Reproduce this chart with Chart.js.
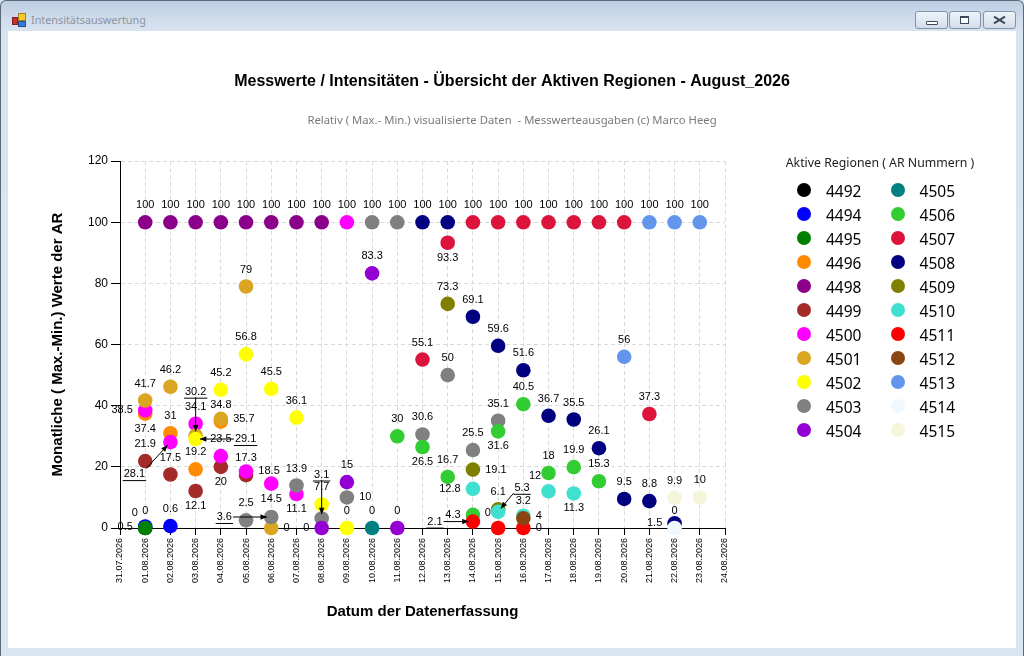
<!DOCTYPE html>
<html>
<head>
<meta charset="utf-8">
<title>Intensitätsauswertung</title>
<script src="https://cdn.jsdelivr.net/npm/chart.js@4.4.1/dist/chart.umd.min.js"></script>
<style>
html,body{margin:0;padding:0;width:1024px;height:656px;overflow:hidden;background:#dae5f2;}
#win{position:absolute;left:0;top:0;width:1022px;height:655px;border:1px solid #5f6a78;border-bottom:none;border-radius:6px 6px 0 0;
  background:linear-gradient(to bottom,#bccde2 0px,#cfdcec 18px,#d9e4f1 31px,#dae5f2 100%);}
#icon{position:absolute;left:11px;top:12px;width:14px;height:14px;}
#icon i{position:absolute;display:block;border:1px solid rgba(0,0,0,0.35);}
#icon .q1{left:6px;top:0;width:6px;height:6px;background:#f6c92b;}
#icon .q2{left:0;top:4px;width:4px;height:6px;background:#c8312b;}
#icon .q3{left:6px;top:8px;width:6px;height:4px;background:#3b78d8;}
#wtitle{position:absolute;left:30px;top:11px;font:10.8px "Noto Sans",sans-serif;color:#8f949b;}
.btn{position:absolute;top:10px;height:16px;border:1px solid #8193ab;border-radius:3px;background:linear-gradient(#eef3f9,#d3ddea);}
#bmin{left:914px;width:31px;}
#bmax{left:948px;width:30px;}
#bclose{left:982px;width:31px;}
#bmin i{position:absolute;left:10px;top:9px;width:10px;height:2px;border:1px solid #3c4a5c;border-radius:1px;background:#fff;}
#bmax i{position:absolute;left:10px;top:4px;width:7px;height:5px;border:1px solid #3c4a5c;border-top-width:2px;background:#fff;}
#bclose i,#bclose b{position:absolute;left:9px;top:7px;width:13px;height:2px;background:#3c4a5c;}
#bclose i{transform:rotate(32deg);}
#bclose b{transform:rotate(-32deg);}
#content{position:absolute;left:8px;top:31px;width:1008px;height:617px;background:#fff;}
#content canvas{display:block;}
#legend{position:absolute;left:0;top:0;}
#legtitle{position:absolute;left:770px;top:155px;width:220px;text-align:center;font:12.3px "Noto Sans",sans-serif;color:#1e1e1e;line-height:16px;}
.li{position:absolute;height:20px;}
.li .m{position:absolute;left:0;top:3px;width:14px;height:14px;border-radius:50%;}
.li .t{position:absolute;left:29px;top:0;line-height:20px;font:15.5px "Noto Sans",sans-serif;color:#000;white-space:nowrap;}
</style>
</head>
<body>
<div id="win">
  <div id="icon"><i class="q1"></i><i class="q2"></i><i class="q3"></i></div>
  <div id="wtitle">Intensitätsauswertung</div>
  <div class="btn" id="bmin"><i></i></div>
  <div class="btn" id="bmax"><i></i></div>
  <div class="btn" id="bclose"><i></i><b></b></div>
</div>
<div id="content"><canvas id="c" width="1008" height="617"></canvas></div>
<div id="legend"><div id="legtitle">Aktive Regionen ( AR Nummern )</div></div>
<script>
// ---------------- data ----------------
const DATES = ['31.07.2026','01.08.2026','02.08.2026','03.08.2026','04.08.2026','05.08.2026',
  '06.08.2026','07.08.2026','08.08.2026','09.08.2026','10.08.2026','11.08.2026','12.08.2026',
  '13.08.2026','14.08.2026','15.08.2026','16.08.2026','17.08.2026','18.08.2026','19.08.2026',
  '20.08.2026','21.08.2026','22.08.2026','23.08.2026','24.08.2026'];
const Y_MIN = 0, Y_MAX = 120, Y_STEP = 20;

const _ = null;
// one value per date (index 0 = 31.07.2026 ... 24 = 24.08.2026)
const V4492 = [_,0,_,_,_, _,_,_,_,_, _,_,_,_,_, _,_,_,_,_, _,_,_,_,_];
const V4494 = [_,0.5,0.6,_,_, _,_,_,_,_, _,_,_,_,_, _,_,_,_,_, _,_,_,_,_];
const V4495 = [_,0,_,_,_, _,_,_,_,_, _,_,_,_,_, _,_,_,_,_, _,_,_,_,_];
const V4496 = [_,37.4,31,19.2,34.8, _,_,_,_,_, _,_,_,_,_, _,_,_,_,_, _,_,_,_,_];
const V4498 = [_,100,100,100,100, 100,100,100,100,_, _,_,_,_,_, _,_,_,_,_, _,_,_,_,_];
const V4499 = [_,21.9,17.5,12.1,20, 17.3,_,_,_,_, _,_,_,_,_, _,_,_,_,_, _,_,_,_,_];
const V4500 = [_,38.5,28.1,34.1,23.5, 18.5,14.5,11.1,_,100, _,_,_,_,_, _,_,_,_,_, _,_,_,_,_];
const V4501 = [_,41.7,46.2,30.2,35.7, 79,0,_,_,_, _,_,_,_,_, _,_,_,_,_, _,_,_,_,_];
const V4502 = [_,_,_,29.1,45.2, 56.8,45.5,36.1,7.7,0, _,_,_,_,_, _,_,_,_,_, _,_,_,_,_];
const V4503 = [_,_,_,_,_, 2.5,3.6,13.9,3.1,10, 100,100,30.6,50,25.5, 35.1,_,_,_,_, _,_,_,_,_];
const V4504 = [_,_,_,_,_, _,_,_,0,15, 83.3,0,_,_,_, _,_,_,_,_, _,_,_,_,_];
const V4505 = [_,_,_,_,_, _,_,_,_,_, 0,_,_,_,_, _,_,_,_,_, _,_,_,_,_];
const V4506 = [_,_,_,_,_, _,_,_,_,_, _,30,26.5,16.7,4.3, 31.6,40.5,18,19.9,15.3, _,_,_,_,_];
const V4507 = [_,_,_,_,_, _,_,_,_,_, _,_,55.1,93.3,100, 100,100,100,100,100, 100,37.3,_,_,_];
const V4508 = [_,_,_,_,_, _,_,_,_,_, _,_,100,100,69.1, 59.6,51.6,36.7,35.5,26.1, 9.5,8.8,1.5,_,_];
const V4509 = [_,_,_,_,_, _,_,_,_,_, _,_,_,73.3,19.1, 6.1,_,_,_,_, _,_,_,_,_];
const V4510 = [_,_,_,_,_, _,_,_,_,_, _,_,_,_,12.8, 5.3,4,12,11.3,_, _,_,_,_,_];
const V4511 = [_,_,_,_,_, _,_,_,_,_, _,_,_,_,2.1, 0,0,_,_,_, _,_,_,_,_];
const V4512 = [_,_,_,_,_, _,_,_,_,_, _,_,_,_,_, _,3.2,_,_,_, _,_,_,_,_];
const V4513 = [_,_,_,_,_, _,_,_,_,_, _,_,_,_,_, _,_,_,_,_, 56,100,100,100,_];
const V4514 = [_,_,_,_,_, _,_,_,_,_, _,_,_,_,_, _,_,_,_,_, _,_,0,_,_];
const V4515 = [_,_,_,_,_, _,_,_,_,_, _,_,_,_,_, _,_,_,_,_, _,_,9.9,10,_];

const AR_NUMBERS = ['4492','4494','4495','4496','4498','4499','4500','4501','4502','4503','4504',
  '4505','4506','4507','4508','4509','4510','4511','4512','4513','4514','4515'];
const AR_VALUES = [V4492,V4494,V4495,V4496,V4498,V4499,V4500,V4501,V4502,V4503,V4504,
  V4505,V4506,V4507,V4508,V4509,V4510,V4511,V4512,V4513,V4514,V4515];

// ---------------- styles ----------------
const AR_COLORS = ['#000000','#0000FF','#008000','#FF8C00','#8B008B','#A52A2A','#FF00FF','#DAA520',
  '#FFFF00','#808080','#9400D3','#008080','#32CD32','#DC143C','#000080','#808000','#40E0D0',
  '#FF0000','#8B4513','#6495ED','#F0F8FF','#F5F5DC'];
const POINT_R = 7.3;
const LABEL_FONT = '11px "Liberation Sans", Arial, sans-serif';
const SANS = '"Liberation Sans", Arial, sans-serif';

// ---------------- smart data labels ----------------
const smartLabels = {
  id: 'smartLabels',
  afterDatasetsDraw(chart) {
    const {ctx, chartArea} = chart;
    const R = POINT_R;
    ctx.save();
    ctx.font = LABEL_FONT;
    const metas = chart.data.datasets.map((d, i) => chart.getDatasetMeta(i));
    const obstacles = [];
    metas.forEach(m => m.data.forEach(el => obstacles.push({l: el.x - R + 1, r: el.x + R - 1, t: el.y - R + 1, b: el.y + R - 1})));
    const placed = [], out = [];
    const hit = (a, b) => a.l < b.r && a.r > b.l && a.t < b.b && a.b > b.t;
    const LH = 11;
    const bounds = {l: chartArea.left - 22, r: chartArea.right + 30, t: chartArea.top - 20, b: chartArea.bottom + 6};
    metas.forEach((m, di) => {
      const ds = chart.data.datasets[di];
      m.data.forEach((el, j) => {
        const text = String(ds.data[j].y);
        const w = ctx.measureText(text).width;
        let pick = null;
        for (let s = 0; s < 7 && !pick; s++) {
          const d = s * 9;
          const dirs = [
            [0, -(17 + d)], [0, 15 + d],
            [-(R + 5 + w / 2 + d), 0], [R + 5 + w / 2 + d, 0],
            [-(R + w / 2 + d), -(15 + d)], [R + w / 2 + d, -(15 + d)],
            [-(R + w / 2 + d), 14 + d], [R + w / 2 + d, 14 + d]
          ];
          for (const [dx, dy] of dirs) {
            const cx = el.x + dx, cy = el.y + dy;
            const box = {l: cx - w / 2 - 1, r: cx + w / 2 + 1, t: cy - LH / 2, b: cy + LH / 2};
            if (box.l < bounds.l || box.r > bounds.r || box.t < bounds.t || box.b > bounds.b) continue;
            if (obstacles.some(o => hit(o, box)) || placed.some(p => hit(p, box))) continue;
            pick = {cx, cy, box, lead: s > 0};
            break;
          }
        }
        if (!pick) {
          const cy = el.y - 17;
          pick = {cx: el.x, cy, box: {l: el.x - w / 2, r: el.x + w / 2, t: cy - LH / 2, b: cy + LH / 2}, lead: false};
        }
        placed.push(pick.box);
        out.push(Object.assign({}, pick, {text, px: el.x, py: el.y}));
      });
    });
    ctx.strokeStyle = '#000';
    ctx.fillStyle = '#000';
    ctx.lineWidth = 1;
    out.filter(o => o.lead).forEach(o => {
      const sx = o.cx + 1 < o.px ? o.box.r : (o.cx - 1 > o.px ? o.box.l : o.cx);
      const sy = o.cy < o.py - 3 ? o.box.b : (o.cy > o.py + 3 ? o.box.t : o.cy);
      const ang = Math.atan2(o.py - sy, o.px - sx);
      const ex = o.px - Math.cos(ang) * (R - 3), ey = o.py - Math.sin(ang) * (R - 3);
      ctx.beginPath();
      ctx.moveTo(o.box.l, o.box.b + 1);
      ctx.lineTo(o.box.r, o.box.b + 1);
      ctx.moveTo(sx, sy);
      ctx.lineTo(ex, ey);
      ctx.stroke();
      ctx.beginPath();
      ctx.moveTo(ex, ey);
      ctx.lineTo(ex - Math.cos(ang - 0.4) * 7, ey - Math.sin(ang - 0.4) * 7);
      ctx.lineTo(ex - Math.cos(ang + 0.4) * 7, ey - Math.sin(ang + 0.4) * 7);
      ctx.closePath();
      ctx.fill();
    });
    ctx.textAlign = 'center';
    ctx.textBaseline = 'middle';
    out.forEach(o => ctx.fillText(o.text, o.cx, o.cy));
    ctx.restore();
  }
};

// ---------------- chart ----------------
Chart.defaults.color = '#000';
Chart.defaults.font.family = SANS;

const datasets = AR_NUMBERS.map((ar, k) => ({
  label: ar,
  data: AR_VALUES[k].map((v, i) => v === null ? null : {x: i, y: v}).filter(p => p !== null),
  backgroundColor: AR_COLORS[k],
  borderColor: AR_COLORS[k],
  pointRadius: POINT_R,
  pointHoverRadius: POINT_R,
  pointBorderWidth: 0,
  showLine: false,
  clip: false,
  order: AR_NUMBERS.length - k
}));

const gridDash = [4, 3];
new Chart(document.getElementById('c'), {
  type: 'scatter',
  data: {datasets},
  options: {
    responsive: false,
    animation: false,
    events: [],
    layout: {padding: 0},
    plugins: {
      legend: {display: false},
      tooltip: {enabled: false},
      title: {
        display: true,
        text: 'Messwerte / Intensitäten - Übersicht der Aktiven Regionen - August_2026',
        font: {family: SANS, size: 16, weight: 'bold', lineHeight: 1.2},
        color: '#000',
        padding: {top: 41.4, bottom: 0}
      },
      subtitle: {
        display: true,
        text: 'Relativ ( Max.- Min.) visualisierte Daten  - Messwerteausgaben (c) Marco Heeg',
        font: {family: '"Noto Sans", sans-serif', size: 11.3, weight: 'normal', lineHeight: 1.2},
        color: '#7a7a7a',
        padding: {top: 22.6, bottom: 33.4}
      }
    },
    scales: {
      x: {
        type: 'linear',
        min: 0, max: DATES.length - 1,
        ticks: {
          stepSize: 1, autoSkip: false, minRotation: 90, maxRotation: 90, padding: 3,
          font: {size: 9},
          callback: v => DATES[v]
        },
        grid: {color: '#d9d9d9', tickColor: '#000', tickLength: 7},
        border: {display: true, color: '#000', width: 1, dash: gridDash},
        title: {
          display: true, text: 'Datum der Datenerfassung',
          font: {family: SANS, size: 15, weight: 'bold', lineHeight: 1.2},
          padding: {top: 0, bottom: 27}
        },
        afterFit(s) { s.height = 120; }
      },
      y: {
        type: 'linear',
        position: 'left',
        min: Y_MIN, max: Y_MAX,
        ticks: {stepSize: Y_STEP, padding: 3, font: {size: 12}},
        grid: {color: '#d9d9d9', tickColor: '#000', tickLength: 9},
        border: {display: true, color: '#000', width: 1, dash: gridDash},
        title: {
          display: true, text: 'Monatliche ( Max.-Min.) Werte der AR',
          font: {family: SANS, size: 15, weight: 'bold', lineHeight: 1.2},
          padding: {top: 41, bottom: 0}
        },
        afterFit(s) { s.width = 112; }
      },
      y2: {
        type: 'linear',
        position: 'right',
        display: true,
        grid: {display: false, drawTicks: false},
        border: {display: false},
        ticks: {display: false},
        afterFit(s) { s.width = 291; }
      }
    }
  },
  plugins: [smartLabels]
});

// ---------------- legend (HTML, from the datasets) ----------------
const leg = document.getElementById('legend');
AR_NUMBERS.forEach((ar, k) => {
  const col = Math.floor(k / 11), row = k % 11;
  const d = document.createElement('div');
  d.className = 'li';
  d.style.left = (797 + col * 93.6) + 'px';
  d.style.top = (180 + row * 24) + 'px';
  d.innerHTML = '<span class="m" style="background:' + AR_COLORS[k] + '"></span><span class="t">' + ar + '</span>';
  leg.appendChild(d);
});
</script>
</body>
</html>
